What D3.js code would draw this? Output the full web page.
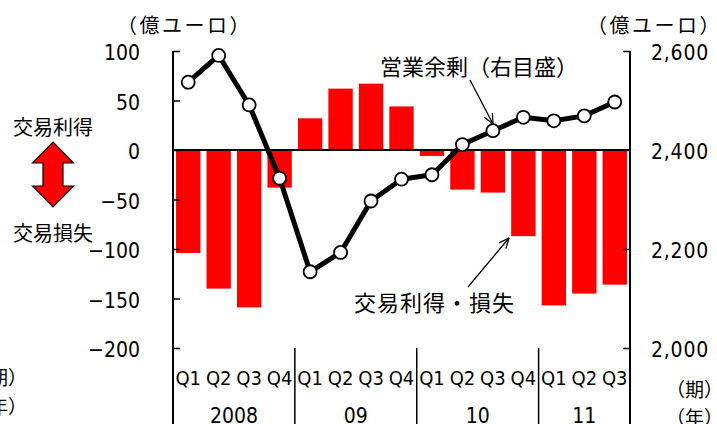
<!DOCTYPE html>
<html>
<head>
<meta charset="utf-8">
<script src="https://cdn.jsdelivr.net/npm/d3@7"></script>
<style>
  html, body { margin: 0; padding: 0; background: #fff; }
  svg { display: block; }
  .jp { font-family: "Noto Sans CJK JP", sans-serif; fill: #000; }
  .num { font-family: "Liberation Sans Narrow", "DejaVu Sans Condensed", sans-serif; fill: #000; }
</style>
</head>
<body>
<svg id="chart" width="717" height="424"></svg>
<script>
// Quarter labels along the bottom, grouped by year
const quarterLabels = ["Q1","Q2","Q3","Q4","Q1","Q2","Q3","Q4","Q1","Q2","Q3","Q4","Q1","Q2","Q3"];
const yearLabels = ["2008","09","10","11"];
const quartersPerYear = [4, 4, 4, 3];

// 交易利得・損失 (億ユーロ, left scale)
const tradeGainLoss = [-104, -140, -159, -38, 32, 62, 67, 44, -6, -40, -43, -87, -157, -145, -136];
// 営業余剰 (億ユーロ, right scale)
const operatingSurplus = [2537, 2591, 2491, 2343, 2154, 2193, 2297, 2341, 2350, 2411, 2439, 2466, 2459, 2469, 2497];

const leftTicks = [100, 50, 0, -50, -100, -150, -200];
const rightTicks = [2000, 2200, 2400, 2600];

const W = 717, H = 424;
const plot = { left: 173, right: 630, top: 51, bottom: 348 };

const svg = d3.select("#chart");

// unique key per period
const periodKeys = [];
{
  let k = 0;
  yearLabels.forEach((y, yi) => {
    for (let q = 0; q < quartersPerYear[yi]; q++) {
      periodKeys.push(y + "-" + quarterLabels[k]);
      k++;
    }
  });
}

const x = d3.scaleBand()
  .domain(periodKeys)
  .range([plot.left, plot.right])
  .paddingInner(0.2)
  .paddingOuter(0.1);

const yL = d3.scaleLinear().domain([-200, 100]).range([plot.bottom, plot.top]);
const yR = d3.scaleLinear().domain([2000, 2600]).range([plot.bottom, plot.top]);

const fmtL = d3.format("");
const fmtR = d3.format(",");

// bars
svg.append("g")
  .selectAll("rect")
  .data(tradeGainLoss)
  .join("rect")
  .attr("x", (d, i) => x(periodKeys[i]))
  .attr("width", x.bandwidth())
  .attr("y", d => Math.min(yL(d), yL(0)))
  .attr("height", d => Math.abs(yL(d) - yL(0)))
  .attr("fill", "#ff0000");

// zero line
svg.append("line")
  .attr("x1", plot.left).attr("x2", plot.right)
  .attr("y1", yL(0)).attr("y2", yL(0))
  .attr("stroke", "#000").attr("stroke-width", 2);

// left axis (ticks pointing inward)
const axL = d3.axisRight(yL).tickValues(leftTicks).tickSize(7).tickFormat("");
const gL = svg.append("g").attr("transform", `translate(${plot.left},0)`).call(axL);
gL.select(".domain").remove();
gL.selectAll(".tick line").attr("stroke", "#000").attr("stroke-width", 1.5);
svg.append("g").selectAll("text")
  .data(leftTicks).join("text")
  .attr("class", "num")
  .attr("x", 140)
  .attr("y", d => yL(d))
  .attr("dy", "0.45em")
  .attr("text-anchor", "end")
  .attr("font-size", 21)
  .text(d => fmtL(d));

// right axis (ticks pointing inward)
const axR = d3.axisLeft(yR).tickValues(rightTicks).tickSize(7).tickFormat("");
const gR = svg.append("g").attr("transform", `translate(${plot.right},0)`).call(axR);
gR.select(".domain").remove();
gR.selectAll(".tick line").attr("stroke", "#000").attr("stroke-width", 1.5);
svg.append("g").selectAll("text")
  .data(rightTicks).join("text")
  .attr("class", "num")
  .attr("x", 651)
  .attr("y", d => yR(d))
  .attr("dy", "0.45em")
  .attr("text-anchor", "start")
  .attr("font-size", 21)
  .attr("letter-spacing", 0.8)
  .text(d => fmtR(d));

// vertical axis lines, extended down through the category area
svg.append("line")
  .attr("x1", plot.left).attr("x2", plot.left)
  .attr("y1", plot.top).attr("y2", H)
  .attr("stroke", "#000").attr("stroke-width", 2);
svg.append("line")
  .attr("x1", plot.right).attr("x2", plot.right)
  .attr("y1", plot.top).attr("y2", H)
  .attr("stroke", "#000").attr("stroke-width", 2);

// year separators and year labels
{
  let idx = 0;
  const step = x.step();
  quartersPerYear.forEach((n, yi) => {
    const x0 = plot.left + idx * step;
    const x1 = plot.left + (idx + n) * step;
    if (yi > 0) {
      svg.append("line")
        .attr("x1", x0).attr("x2", x0)
        .attr("y1", plot.bottom).attr("y2", H)
        .attr("stroke", "#000").attr("stroke-width", 1.5);
    }
    svg.append("text")
      .attr("class", "num")
      .attr("x", (x0 + x1) / 2)
      .attr("y", 423)
      .attr("text-anchor", "middle")
      .attr("font-size", 21)
      .text(yearLabels[yi]);
    idx += n;
  });
}

// quarter labels
svg.append("g").selectAll("text")
  .data(periodKeys).join("text")
  .attr("class", "num")
  .attr("x", d => x(d) + x.bandwidth() / 2)
  .attr("y", 385)
  .attr("text-anchor", "middle")
  .attr("font-size", 20)
  .text((d, i) => quarterLabels[i]);

// operating surplus line
const line = d3.line()
  .x((d, i) => x(periodKeys[i]) + x.bandwidth() / 2)
  .y(d => yR(d));
svg.append("path")
  .datum(operatingSurplus)
  .attr("d", line)
  .attr("fill", "none")
  .attr("stroke", "#000")
  .attr("stroke-width", 5)
  .attr("stroke-linejoin", "round");
svg.append("g").selectAll("circle")
  .data(operatingSurplus).join("circle")
  .attr("cx", (d, i) => x(periodKeys[i]) + x.bandwidth() / 2)
  .attr("cy", d => yR(d))
  .attr("r", 6.5)
  .attr("fill", "#fff")
  .attr("stroke", "#000")
  .attr("stroke-width", 1.8);

// unit labels
svg.append("text").attr("class", "jp").attr("x", 117).attr("y", 33)
  .attr("font-size", 20).attr("letter-spacing", 2.5).text("（億ユーロ）");
svg.append("text").attr("class", "jp").attr("x", 587).attr("y", 33)
  .attr("font-size", 20).attr("letter-spacing", 2.5).text("（億ユーロ）");

// period/year captions
svg.append("text").attr("class", "jp").attr("x", 27).attr("y", 385)
  .attr("text-anchor", "end").attr("font-size", 19).text("（期）");
svg.append("text").attr("class", "jp").attr("x", 27).attr("y", 414)
  .attr("text-anchor", "end").attr("font-size", 19).text("（年）");
svg.append("text").attr("class", "jp").attr("x", 666).attr("y", 397)
  .attr("font-size", 19).text("（期）");
svg.append("text").attr("class", "jp").attr("x", 666).attr("y", 425)
  .attr("font-size", 19).text("（年）");

// legend: gain / loss with a double-headed arrow
svg.append("text").attr("class", "jp").attr("x", 13).attr("y", 135)
  .attr("font-size", 20).text("交易利得");
svg.append("text").attr("class", "jp").attr("x", 13).attr("y", 241)
  .attr("font-size", 20).text("交易損失");
const ax = 53;
svg.append("path")
  .attr("d", [
    [ax, 142], [ax + 20.5, 163], [ax + 10, 163], [ax + 10, 186], [ax + 20.5, 186],
    [ax, 207], [ax - 20.5, 186], [ax - 10, 186], [ax - 10, 163], [ax - 20.5, 163]
  ].map((p, i) => (i ? "L" : "M") + p[0] + "," + p[1]).join("") + "Z")
  .attr("fill", "#ff0000")
  .attr("stroke", "#000")
  .attr("stroke-width", 1.2)
  .attr("stroke-linejoin", "miter");

// annotations with pointer arrows
function pointer(x1, y1, x2, y2) {
  svg.append("line")
    .attr("x1", x1).attr("y1", y1).attr("x2", x2).attr("y2", y2)
    .attr("stroke", "#000").attr("stroke-width", 1.3);
  const a = Math.atan2(y2 - y1, x2 - x1);
  const len = 11, spread = 0.42;
  [a + Math.PI - spread, a + Math.PI + spread].forEach(t => {
    svg.append("line")
      .attr("x1", x2).attr("y1", y2)
      .attr("x2", x2 + len * Math.cos(t)).attr("y2", y2 + len * Math.sin(t))
      .attr("stroke", "#000").attr("stroke-width", 1.3);
  });
}
svg.append("text").attr("class", "jp").attr("x", 380).attr("y", 75)
  .attr("font-size", 22).text("営業余剰（右目盛）");
pointer(470, 80, 493, 124);

svg.append("text").attr("class", "jp").attr("x", 354).attr("y", 311)
  .attr("font-size", 22).attr("letter-spacing", 1).text("交易利得・損失");
pointer(468, 287, 509, 238);
</script>
</body>
</html>
